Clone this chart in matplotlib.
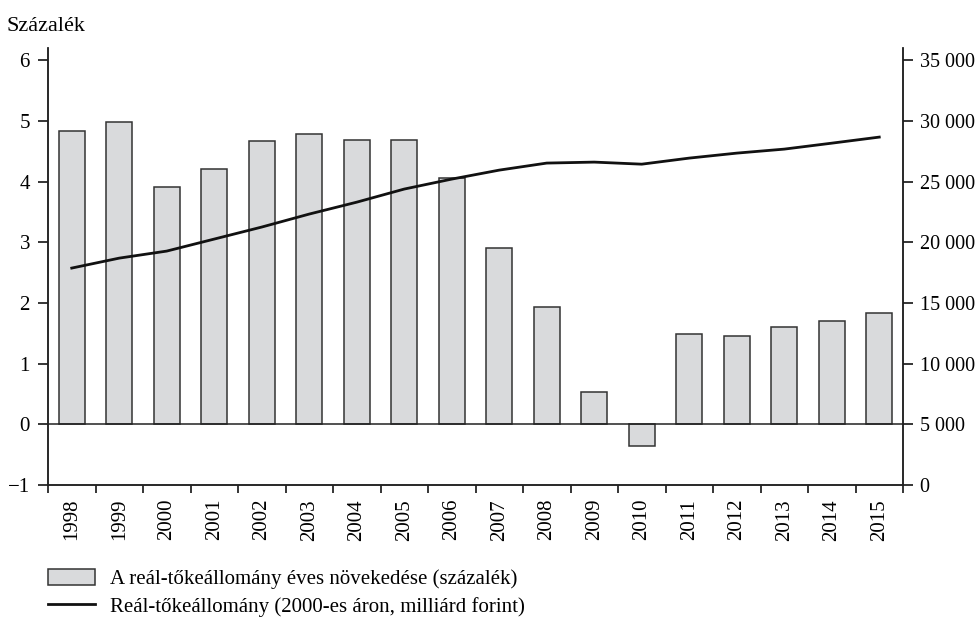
import numpy as np
import matplotlib
matplotlib.use("Agg")
import matplotlib.pyplot as plt
from matplotlib.ticker import FuncFormatter

plt.rcParams["font.family"] = ["Liberation Serif", "DejaVu Serif"]

years = [str(y) for y in range(1998, 2016)]
growth = [4.84, 4.98, 3.91, 4.20, 4.66, 4.79, 4.68, 4.68, 4.05,
          2.90, 1.94, 0.53, -0.35, 1.48, 1.45, 1.60, 1.71, 1.83]
stock = [17870, 18690, 19270, 20260, 21250, 22320, 23300, 24380, 25200,
         25940, 26520, 26600, 26430, 26930, 27340, 27670, 28160, 28660]

bar_label = "A reál-tőkeállomány éves növekedése (százalék)"
line_label = "Reál-tőkeállomány (2000-es áron, milliárd forint)"

fs = 15

fig = plt.figure(figsize=(9.79, 6.17), dpi=100)
ax = fig.add_axes([48 / 979, 132 / 617, 855 / 979, 437 / 617])
ax2 = ax.twinx()

x = np.arange(len(years))
bars = ax.bar(x, growth, width=0.55, color="#d9dadc", edgecolor="#333333",
              linewidth=1.1, label=bar_label, zorder=2)
ax.axhline(0, color="#222222", linewidth=1.1, zorder=3)
line, = ax2.plot(x, stock, color="#111111", linewidth=2, label=line_label)

ax.set_xlim(-0.5, len(years) - 0.5)
ax.set_ylim(-1, 6.2)
ax2.set_ylim(0, 36000)

ax.set_yticks(range(-1, 7))
ax2.set_yticks(range(0, 35001, 5000))
ax2.yaxis.set_major_formatter(FuncFormatter(lambda v, p: f"{int(v):,}".replace(",", " ")))

ax.set_xticks(np.arange(-0.5, len(years), 1.0))
ax.set_xticklabels([])
ax.set_xticks(x, minor=True)
ax.set_xticklabels(years, minor=True, rotation=90)
ax.tick_params(axis="x", which="major", length=6, width=1.1, direction="out")
ax.tick_params(axis="x", which="minor", length=0, pad=10, labelsize=fs)
ax.tick_params(axis="y", length=7, width=1.1, labelsize=fs, pad=6)
ax2.tick_params(axis="y", length=7, width=1.1, labelsize=14.5, pad=5)

for a in (ax, ax2):
    a.spines["top"].set_visible(False)
    for s in ("left", "right", "bottom"):
        a.spines[s].set_linewidth(1.1)
        a.spines[s].set_color("#222222")

fig.text(7 / 979, 1 - 31 / 617, "Százalék", fontsize=16, va="baseline")

fig.legend(handles=[bars, line], loc="upper left",
           bbox_to_anchor=(48 / 979, 1 - 569 / 617), frameon=False,
           borderpad=0, borderaxespad=0,
           fontsize=fs, handlelength=2.25, handleheight=0.8,
           labelspacing=0.35, handletextpad=0.75)

fig.savefig("out.png", dpi=100)
